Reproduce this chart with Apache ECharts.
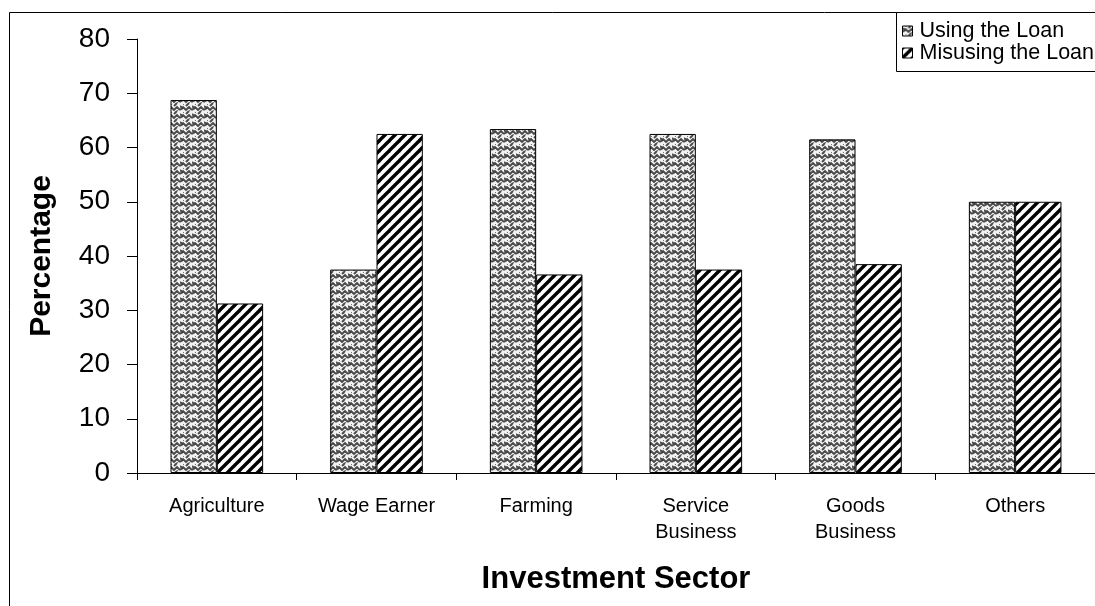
<!DOCTYPE html>
<html>
<head>
<meta charset="utf-8">
<script src="https://cdn.jsdelivr.net/npm/echarts@6/dist/echarts.min.js"></script>
<style>
  html, body { margin: 0; padding: 0; background: #fff; }
  #chart { width: 1095px; height: 606px; }
</style>
</head>
<body>
<div id="chart"></div>
<script>
// Share of borrowers using / misusing the loan, by investment sector (%)
const categories = ['Agriculture', 'Wage Earner', 'Farming', 'Service\nBusiness', 'Goods\nBusiness', 'Others'];
const usingLoan = [68.75, 37.5, 63.4, 62.5, 61.5, 50];
const misusingLoan = [31.25, 62.5, 36.6, 37.5, 38.5, 50];
const seriesNames = ['Using the Loan', 'Misusing the Loan'];
const yMin = 0, yMax = 80, yStep = 10;

const FONT = '"Liberation Sans", Arial, sans-serif';

// Woven grey fill tile
function weaveTile() {
  const c = document.createElement('canvas');
  c.width = 12; c.height = 8;
  const g = c.getContext('2d');
  g.fillStyle = '#f2f2f2';
  g.fillRect(0, 0, 12, 8);
  g.strokeStyle = '#474747';
  g.lineWidth = 1.9;
  for (let k = -1; k <= 1; k++) {
    const oy = k * 8;
    g.beginPath();
    g.moveTo(0, oy + 6); g.lineTo(3, oy + 3); g.lineTo(6, oy + 6); g.lineTo(9, oy + 3); g.lineTo(12, oy + 6);
    g.stroke();
    g.beginPath();
    g.moveTo(0, oy + 2); g.lineTo(3, oy + 5);
    g.moveTo(6, oy + 2); g.lineTo(9, oy - 1);
    g.stroke();
  }
  g.fillStyle = '#777777';
  g.fillRect(3, 0, 1, 1);
  g.fillRect(9, 6, 1, 1);
  return c;
}

// Bold diagonal stripe tile
function stripeTile() {
  const c = document.createElement('canvas');
  c.width = 10; c.height = 10;
  const g = c.getContext('2d');
  g.fillStyle = '#ffffff';
  g.fillRect(0, 0, 10, 10);
  g.strokeStyle = '#000000';
  g.lineWidth = 3.4;
  for (let k = -1; k <= 1; k++) {
    g.beginPath();
    g.moveTo(k * 10 - 1, 11);
    g.lineTo(k * 10 + 11, -1);
    g.stroke();
  }
  return c;
}

const fills = [
  { image: weaveTile(), repeat: 'repeat' },
  { image: stripeTile(), repeat: 'repeat' }
];

const chart = echarts.init(document.getElementById('chart'), null, { renderer: 'canvas' });

chart.setOption({
  backgroundColor: '#ffffff',
  animation: false,
  textStyle: { fontFamily: FONT, color: '#000' },
  grid: { left: 137, top: 39, width: 963, height: 434, containLabel: false },
  legend: {
    orient: 'vertical',
    left: 902,
    top: 20,
    padding: 0,
    itemWidth: 10,
    itemHeight: 10,
    itemGap: 0,
    icon: 'rect',
    data: seriesNames,
    textStyle: { fontFamily: FONT, fontSize: 21.5, color: '#000', lineHeight: 21, padding: [0, 0, 0, 2] },
    itemStyle: { borderColor: '#000', borderWidth: 1 }
  },
  xAxis: {
    type: 'category',
    data: categories,
    name: 'Investment Sector',
    nameLocation: 'middle',
    nameGap: 91,
    nameTextStyle: { fontFamily: FONT, fontSize: 31, fontWeight: 'bold', color: '#000' },
    axisLine: { show: true, lineStyle: { color: '#000', width: 1 } },
    axisTick: { show: true, length: 7, inside: false, lineStyle: { color: '#000' } },
    axisLabel: { fontFamily: FONT, fontSize: 20, color: '#000', lineHeight: 26, margin: 20, interval: 0 },
    splitLine: { show: false }
  },
  yAxis: {
    type: 'value',
    min: yMin,
    max: yMax,
    interval: yStep,
    name: 'Percentage',
    nameLocation: 'middle',
    nameGap: 80,
    nameTextStyle: { fontFamily: FONT, fontSize: 30, fontWeight: 'bold', color: '#000' },
    axisLine: { show: true, lineStyle: { color: '#000', width: 1 } },
    axisTick: { show: true, length: 10, inside: false, lineStyle: { color: '#000' } },
    axisLabel: { fontFamily: FONT, fontSize: 28, color: '#000', margin: 27 },
    splitLine: { show: false }
  },
  series: [
    {
      name: seriesNames[0],
      type: 'bar',
      data: usingLoan,
      barGap: '0%',
      barCategoryGap: '42%',
      itemStyle: { color: fills[0], borderColor: '#000', borderWidth: 1 }
    },
    {
      name: seriesNames[1],
      type: 'bar',
      data: misusingLoan,
      barGap: '0%',
      barCategoryGap: '42%',
      itemStyle: { color: fills[1], borderColor: '#000', borderWidth: 1 }
    }
  ],
  graphic: [
    {
      type: 'rect',
      shape: { x: 9.5, y: 12.5, width: 1200, height: 700 },
      style: { fill: 'none', stroke: '#000', lineWidth: 1 },
      silent: true, z: -1
    },
    {
      type: 'rect',
      shape: { x: 896.5, y: 12.5, width: 300, height: 59 },
      style: { fill: '#fff', stroke: '#000', lineWidth: 1 },
      silent: true, z: 0
    }
  ]
});
</script>
</body>
</html>
